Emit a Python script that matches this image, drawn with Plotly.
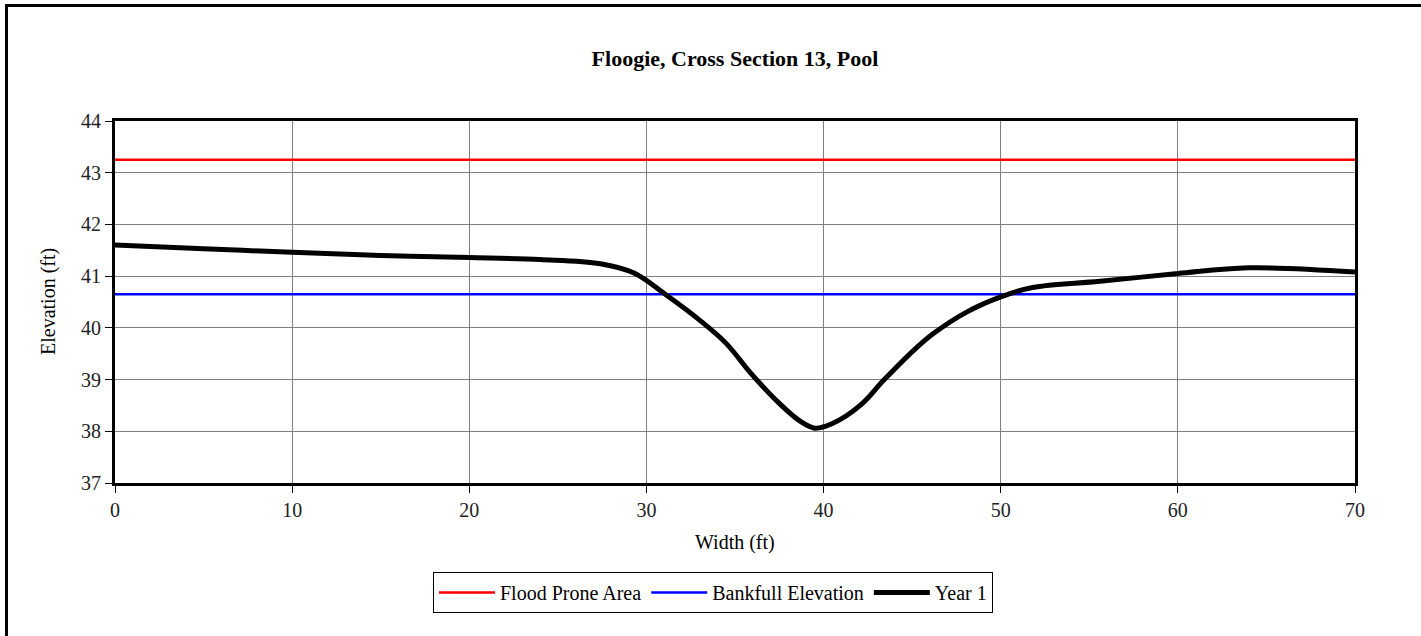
import plotly.graph_objects as go

# Surveyed cross-section profile (station in ft, elevation in ft)
station_ft = [0, 5, 10, 15, 20, 24, 27.4, 29.3, 31.1, 33.0, 34.5, 35.9, 37.5, 38.7,
              39.5, 40.5, 42.1, 43.4, 45.1, 46.2, 48.1, 50.0, 51.8, 55.6, 60, 64, 70]
year1_elev = [41.60, 41.53, 41.46, 41.40, 41.36, 41.32, 41.24, 41.06, 40.64, 40.15,
              39.70, 39.12, 38.54, 38.19, 38.06, 38.15, 38.51, 38.99, 39.57, 39.89,
              40.31, 40.60, 40.78, 40.90, 41.05, 41.16, 41.08]

# Reference elevations spanning the full section
ref_station = [0, 70]
flood_prone_elev = [43.25, 43.25]
bankfull_elev = [40.65, 40.65]

x_ticks = [0, 10, 20, 30, 40, 50, 60, 70]
y_ticks = [37, 38, 39, 40, 41, 42, 43, 44]

FONT = "Liberation Serif"

W, H = 1421, 636
L, R, T, B = 115, 66, 121, 153
plot_w = W - L - R
plot_h = H - T - B


def px_x(p):
    return (p - L) / plot_w


def px_y(p):
    return (H - B - p) / plot_h


fig = go.Figure()
fig.add_trace(go.Scatter(x=ref_station, y=flood_prone_elev, mode="lines",
                         name="Flood Prone Area", line=dict(color="#ff0000", width=2.5)))
fig.add_trace(go.Scatter(x=ref_station, y=bankfull_elev, mode="lines",
                         name="Bankfull Elevation", line=dict(color="#0000ff", width=2.5)))
fig.add_trace(go.Scatter(x=station_ft, y=year1_elev, mode="lines", name="Year 1",
                         line=dict(color="#000000", width=5, shape="spline", smoothing=1.0)))

axis_common = dict(
    showgrid=True, gridcolor="#808080", gridwidth=1,
    showline=True, linecolor="#000000", linewidth=3, mirror=True,
    ticks="outside", ticklen=7, tickcolor="#000000", tickwidth=1,
    tickfont=dict(family=FONT, size=20, color="#222222"),
    zeroline=False, automargin=False,
)

fig.update_xaxes(range=[0, 70], tickvals=x_ticks, ticktext=[str(v) for v in x_ticks], **axis_common)
fig.update_yaxes(range=[37, 44], tickvals=y_ticks, ticktext=[str(v) for v in y_ticks], **axis_common)

fig.update_layout(
    width=W, height=H,
    margin=dict(l=L, r=R, t=T, b=B, autoexpand=False),
    paper_bgcolor="white", plot_bgcolor="white",
    font=dict(family=FONT, size=20, color="#000000"),
    title=dict(text="<b>Floogie, Cross Section 13, Pool</b>", x=0.5, xref="paper",
               xanchor="center", y=1 - 58 / H, yref="container", yanchor="middle",
               font=dict(family=FONT, size=22, color="#000000")),
    showlegend=True,
    legend=dict(orientation="h", xref="container", x=433 / W, xanchor="left",
                yref="container", y=1 - 572 / H, yanchor="top",
                bordercolor="#000000", borderwidth=1, bgcolor="white",
                font=dict(family=FONT, size=20, color="#000000"),
                itemwidth=56, tracegroupgap=0),
    annotations=[
        dict(text="Width (ft)", x=0.5, xref="paper", y=px_y(542), yref="paper",
             xanchor="center", yanchor="middle", showarrow=False,
             font=dict(family=FONT, size=20, color="#000000")),
        dict(text="Elevation (ft)", x=px_x(48), xref="paper", y=0.5, yref="paper",
             xanchor="center", yanchor="middle", textangle=-90, showarrow=False,
             font=dict(family=FONT, size=20, color="#000000")),
    ],
    shapes=[
        # chart-area frame: left and top edges (the rest runs off the page)
        dict(type="line", xref="paper", yref="paper",
             x0=px_x(6.5), x1=px_x(6.5), y0=px_y(H + 5), y1=px_y(5.5),
             line=dict(color="#000000", width=3), layer="above"),
        dict(type="line", xref="paper", yref="paper",
             x0=px_x(5), x1=px_x(W + 5), y0=px_y(5.5), y1=px_y(5.5),
             line=dict(color="#000000", width=3), layer="above"),
    ],
)

fig.write_html("out.html")
